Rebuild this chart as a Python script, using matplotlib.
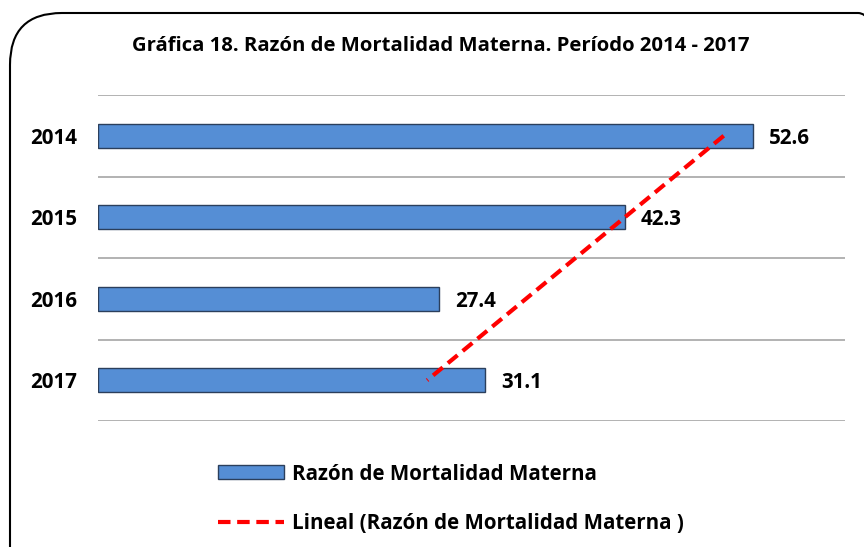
import matplotlib.pyplot as plt
from matplotlib.patches import FancyBboxPatch
import numpy as np

plt.rcParams['font.family'] = ['Open Sans', 'DejaVu Sans']

years = ['2014', '2015', '2016', '2017']
razon = [52.6, 42.3, 27.4, 31.1]
serie = 'Razón de Mortalidad Materna'
titulo = 'Gráfica 18. Razón de Mortalidad Materna. Período 2014 - 2017'
fs = 14.8

fig = plt.figure(figsize=(8.64, 5.47), dpi=100)
ax = fig.add_axes([98 / 864, 126 / 547, 747 / 864, 326 / 547])

pos = np.arange(len(years))
bars = ax.barh(pos, razon, height=0.3, color='#558ed5', edgecolor='#2b3f5c',
               linewidth=1.0, label=serie, zorder=2)

# linea de tendencia lineal
coef = np.polyfit(pos, razon, 1)
trend = np.polyval(coef, pos)
line, = ax.plot(trend, pos, color='#ff0000', linestyle=(0, (3, 1.6)), linewidth=3,
                label='Lineal (Razón de Mortalidad Materna )', zorder=3)

for p, v in zip(pos, razon):
    ax.text(v + 1.3, p + 0.03, f'{v:.1f}', va='center', ha='left',
            fontsize=fs, fontweight='bold')

ax.set_xlim(0, 60)
ax.set_ylim(3.5, -0.5)
for b in np.arange(-0.5, 4, 1):
    ax.axhline(b, color='#a6a6a6', linewidth=1.2, zorder=1)
ax.set_yticks(pos)
ax.set_yticklabels(years, fontsize=fs, fontweight='bold')
ax.tick_params(axis='y', length=0, pad=15)
ax.set_xticks([])
for s in ax.spines.values():
    s.set_visible(False)

fig.text(441 / 864, 1 - 46 / 547, titulo, ha='center', va='center',
         fontsize=14.6, fontweight='bold')

fig.legend([bars, line], [serie, 'Lineal (Razón de Mortalidad Materna )'],
           loc='upper left', bbox_to_anchor=(199 / 864, 1 - 445 / 547),
           frameon=False, prop={'weight': 'bold', 'size': fs},
           handlelength=3.25, handleheight=0.65, handletextpad=0.35,
           labelspacing=1.38)

frame = FancyBboxPatch((10 / 864, -70 / 547), 900 / 864, (547 - 13 + 70) / 547,
                       boxstyle='round,pad=0,rounding_size=0.06',
                       transform=fig.transFigure, facecolor='none',
                       edgecolor='black', linewidth=1.5,
                       mutation_aspect=864 / 547)
fig.patches.append(frame)

fig.savefig('out.png', dpi=100)
